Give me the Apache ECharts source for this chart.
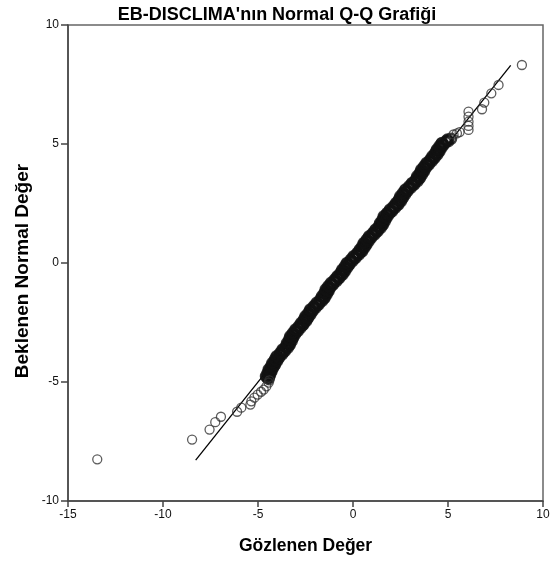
<!DOCTYPE html>
<html>
<head>
<meta charset="utf-8">
<script src="https://cdn.jsdelivr.net/npm/echarts@6/dist/echarts.min.js"></script>
<style>
html,body{margin:0;padding:0;background:#fff;}
#chart{width:554px;height:561px;}
</style>
</head>
<body>
<div id="chart"></div>
<script>
// ---- Texts ----
const baslik = "EB-DISCLIMA'nın Normal Q-Q Grafiği";
const xBaslik = "Gözlenen Değer";
const yBaslik = "Beklenen Normal Değer";

// ---- Axis ranges / tick steps ----
const xAralik = [-15, 10];
const yAralik = [-10, 10];
const adim = 5;

// ---- Reference line (expected = observed), endpoints ----
const referansCizgi = [-8.28, 8.30];

// ---- Lower tail points ----
const altGozlenen = [-13.46, -8.47, -7.55, -7.25, -6.95, -6.10, -5.88, -5.40, -5.35, -5.19, -5.02, -4.84, -4.70, -4.56, -4.44, -4.40];
const altBeklenen = [-8.25, -7.42, -7.00, -6.69, -6.46, -6.25, -6.08, -5.95, -5.81, -5.66, -5.53, -5.41, -5.32, -5.18, -5.03, -4.93];

// ---- Dense middle band (first set) ----
const bantGozlenen = [-4.47,-4.55,-4.43,-4.46,-4.33,-4.42,-4.28,-4.29,-4.15,-4.22,-4.08,-4.09,-3.95,-4.01,-3.84,-3.82,-3.65,-3.70,-3.53,-3.51,-3.37,-3.44,-3.31,-3.33,-3.20,-3.28,-3.14,-3.15,-2.98,-3.02,-2.86,-2.84,-2.67,-2.72,-2.55,-2.56,-2.41,-2.48,-2.33,-2.33,-2.19,-2.25,-2.07,-2.05,-1.88,-1.91,-1.74,-1.71,-1.54,-1.61,-1.47,-1.48,-1.34,-1.42,-1.28,-1.29,-1.12,-1.15,-0.98,-0.96,-0.78,-0.82,-0.64,-0.64,-0.49,-0.55,-0.40,-0.40,-0.25,-0.31,-0.14,-0.11,0.06,0.03,0.21,0.23,0.41,0.36,0.51,0.51,0.65,0.59,0.73,0.73,0.88,0.85,1.02,1.05,1.22,1.18,1.36,1.38,1.52,1.45,1.58,1.57,1.71,1.64,1.78,1.80,1.98,1.94,2.12,2.14,2.31,2.28,2.43,2.42,2.57,2.51,2.65,2.65,2.79,2.75,2.93,2.96,3.14,3.11,3.28,3.31,3.47,3.40,3.54,3.54,3.68,3.61,3.75,3.75,3.92,3.88,4.04,4.06,4.23,4.19,4.35,4.34,4.49,4.42,4.57,4.57,4.71,4.66,4.88,4.95,5.16];
const bantBeklenen = [-4.86,-4.79,-4.72,-4.65,-4.58,-4.51,-4.44,-4.37,-4.30,-4.23,-4.16,-4.09,-4.02,-3.95,-3.88,-3.81,-3.74,-3.67,-3.60,-3.53,-3.46,-3.39,-3.32,-3.25,-3.18,-3.11,-3.04,-2.97,-2.90,-2.83,-2.76,-2.69,-2.62,-2.55,-2.48,-2.41,-2.34,-2.27,-2.20,-2.13,-2.06,-1.99,-1.92,-1.85,-1.78,-1.71,-1.64,-1.57,-1.50,-1.43,-1.36,-1.29,-1.22,-1.15,-1.08,-1.01,-0.94,-0.87,-0.80,-0.73,-0.66,-0.59,-0.52,-0.45,-0.38,-0.31,-0.24,-0.17,-0.10,-0.03,0.04,0.11,0.18,0.25,0.32,0.39,0.46,0.53,0.60,0.67,0.74,0.81,0.88,0.95,1.02,1.09,1.16,1.23,1.30,1.37,1.44,1.51,1.58,1.65,1.72,1.79,1.86,1.93,2.00,2.07,2.14,2.21,2.28,2.35,2.42,2.49,2.56,2.63,2.70,2.77,2.84,2.91,2.98,3.05,3.12,3.19,3.26,3.33,3.40,3.47,3.54,3.61,3.68,3.75,3.82,3.89,3.96,4.03,4.10,4.17,4.24,4.31,4.38,4.45,4.52,4.59,4.66,4.73,4.80,4.87,4.94,5.01,5.08,5.15,5.22];

// ---- Dense middle band (second set, interleaved) ----
const bant2Gozlenen = [-4.42,-4.58,-4.36,-4.49,-4.29,-4.44,-4.20,-4.31,-4.10,-4.24,-4.00,-4.11,-3.89,-4.02,-3.74,-3.83,-3.59,-3.71,-3.43,-3.53,-3.32,-3.47,-3.23,-3.36,-3.15,-3.30,-3.06,-3.16,-2.91,-3.03,-2.76,-2.85,-2.61,-2.73,-2.47,-2.58,-2.36,-2.50,-2.24,-2.35,-2.13,-2.25,-1.97,-2.06,-1.81,-1.92,-1.64,-1.72,-1.49,-1.63,-1.39,-1.50,-1.29,-1.44,-1.20,-1.30,-1.05,-1.16,-0.88,-0.96,-0.71,-0.82,-0.55,-0.66,-0.43,-0.57,-0.31,-0.42,-0.19,-0.32,-0.04,-0.12,0.14,0.03,0.31,0.23,0.48,0.35,0.60,0.49,0.71,0.57,0.82,0.72,0.96,0.85,1.13,1.05,1.29,1.18,1.46,1.36,1.58,1.43,1.67,1.55,1.77,1.62,1.88,1.80,2.05,1.94,2.22,2.14,2.39,2.27,2.52,2.41,2.63,2.49,2.74,2.63,2.86,2.75,3.04,2.96,3.22,3.11,3.39,3.30,3.53,3.38,3.63,3.52,3.74,3.59,3.84,3.75,3.99,3.87,4.14,4.06,4.30,4.18,4.44,4.33,4.55,4.41,4.66,4.55,4.78,4.68,5.01,4.97];
const bant2Beklenen = [-4.825,-4.755,-4.685,-4.615,-4.545,-4.475,-4.405,-4.335,-4.265,-4.195,-4.125,-4.055,-3.985,-3.915,-3.845,-3.775,-3.705,-3.635,-3.565,-3.495,-3.425,-3.355,-3.285,-3.215,-3.145,-3.075,-3.005,-2.935,-2.865,-2.795,-2.725,-2.655,-2.585,-2.515,-2.445,-2.375,-2.305,-2.235,-2.165,-2.095,-2.025,-1.955,-1.885,-1.815,-1.745,-1.675,-1.605,-1.535,-1.465,-1.395,-1.325,-1.255,-1.185,-1.115,-1.045,-0.975,-0.905,-0.835,-0.765,-0.695,-0.625,-0.555,-0.485,-0.415,-0.345,-0.275,-0.205,-0.135,-0.065,0.005,0.075,0.145,0.215,0.285,0.355,0.425,0.495,0.565,0.635,0.705,0.775,0.845,0.915,0.985,1.055,1.125,1.195,1.265,1.335,1.405,1.475,1.545,1.615,1.685,1.755,1.825,1.895,1.965,2.035,2.105,2.175,2.245,2.315,2.385,2.455,2.525,2.595,2.665,2.735,2.805,2.875,2.945,3.015,3.085,3.155,3.225,3.295,3.365,3.435,3.505,3.575,3.645,3.715,3.785,3.855,3.925,3.995,4.065,4.135,4.205,4.275,4.345,4.415,4.485,4.555,4.625,4.695,4.765,4.835,4.905,4.975,5.045,5.115,5.185];

// ---- Upper tail points ----
const ustGozlenen = [5.29, 5.47, 5.61, 6.08, 6.08, 6.08, 6.08, 6.08, 6.79, 6.91, 7.28, 7.66, 8.89];
const ustBeklenen = [5.40, 5.45, 5.50, 5.59, 5.76, 5.94, 6.15, 6.36, 6.46, 6.74, 7.13, 7.48, 8.32];

// ---- Build point tables ----
function zip(a, b) { return a.map((v, i) => [v, b[i]]); }
const kuyrukNoktalar = [].concat(zip(altGozlenen, altBeklenen), zip(ustGozlenen, ustBeklenen));
const bantNoktalar = [].concat(zip(bantGozlenen, bantBeklenen), zip(bant2Gozlenen, bant2Beklenen));

const FONT = '"Liberation Sans", Arial, sans-serif';

const chart = echarts.init(document.getElementById('chart'), null, {renderer: 'canvas'});
chart.setOption({
  animation: false,
  backgroundColor: '#fff',
  title: {
    text: baslik,
    left: 'center',
    top: 1,
    textStyle: {fontFamily: FONT, fontSize: 18, fontWeight: 'bold', color: '#000'}
  },
  grid: {
    left: 68, top: 25, width: 475, height: 476,
    show: true, borderColor: '#666', borderWidth: 1.5, backgroundColor: 'transparent'
  },
  xAxis: {
    type: 'value',
    min: xAralik[0], max: xAralik[1], interval: adim,
    name: xBaslik,
    nameLocation: 'middle',
    nameGap: 36,
    nameTextStyle: {fontFamily: FONT, fontSize: 17.5, fontWeight: 'bold', color: '#000'},
    axisLine: {show: true, onZero: false, lineStyle: {color: '#444', width: 1.5}},
    axisTick: {show: true, inside: false, length: 6, lineStyle: {color: '#444', width: 1.5}},
    axisLabel: {fontFamily: FONT, fontSize: 12, color: '#111', margin: 8},
    splitLine: {show: false}
  },
  yAxis: {
    type: 'value',
    min: yAralik[0], max: yAralik[1], interval: adim,
    axisLine: {show: true, onZero: false, lineStyle: {color: '#444', width: 1.5}},
    axisTick: {show: true, inside: false, length: 7, lineStyle: {color: '#444', width: 1.5}},
    axisLabel: {fontFamily: FONT, fontSize: 12, color: '#111', margin: 9},
    splitLine: {show: false}
  },
  graphic: [{
    type: 'text',
    x: 23, y: 271,
    rotation: Math.PI / 2,
    style: {
      text: yBaslik,
      font: 'bold 19px ' + FONT,
      fill: '#000',
      align: 'center',
      verticalAlign: 'middle'
    }
  }],
  series: [
    {
      type: 'line',
      data: [[referansCizgi[0], referansCizgi[0]], [referansCizgi[1], referansCizgi[1]]],
      symbol: 'none',
      lineStyle: {color: '#000', width: 1.3},
      silent: true,
      z: 2
    },
    {
      type: 'scatter',
      data: bantNoktalar,
      symbol: 'circle',
      symbolSize: 10,
      itemStyle: {color: 'rgba(0,0,0,0)', borderColor: '#111', borderWidth: 2.5},
      silent: true,
      z: 3
    },
    {
      type: 'scatter',
      data: kuyrukNoktalar,
      symbol: 'circle',
      symbolSize: 9,
      itemStyle: {color: 'rgba(0,0,0,0)', borderColor: '#333', borderWidth: 1.3},
      silent: true,
      z: 3
    }
  ]
});
</script>
</body>
</html>
